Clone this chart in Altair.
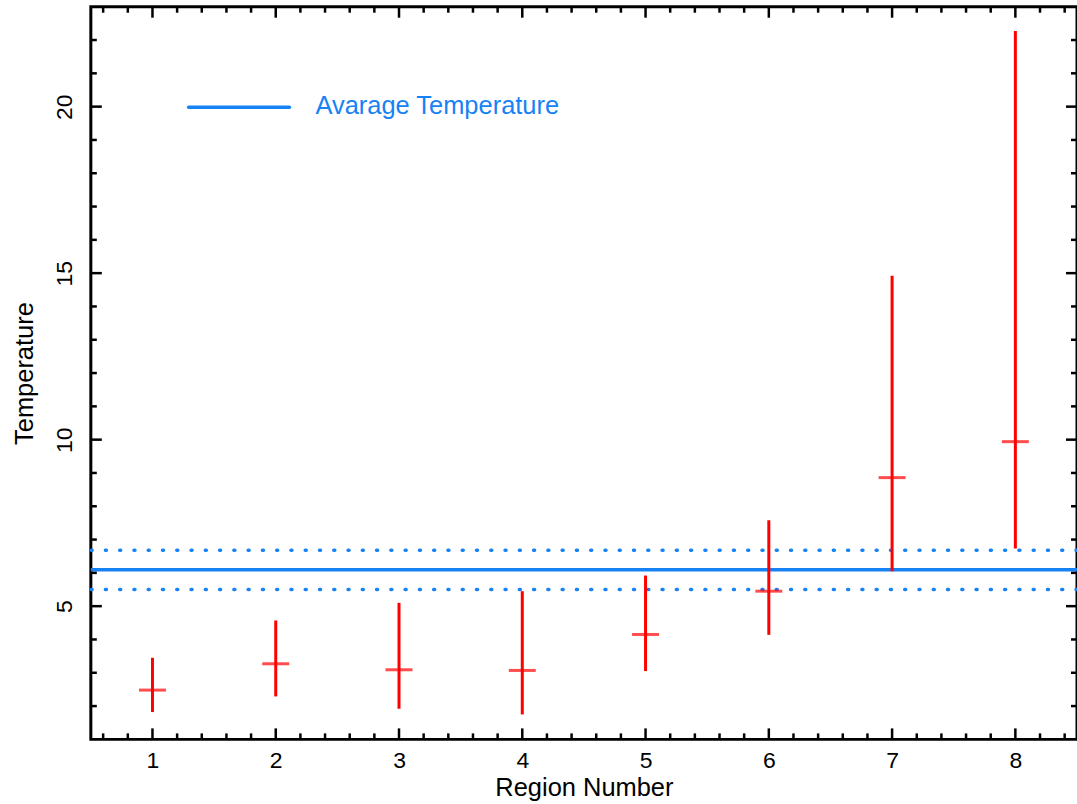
import altair as alt
import pandas as pd

# ---- data ----
regions = [1, 2, 3, 4, 5, 6, 7, 8]
temp = [2.48, 3.27, 3.09, 3.07, 4.15, 5.45, 8.86, 9.94]
temp_low = [1.82, 2.29, 1.92, 1.75, 3.05, 4.14, 6.05, 6.73]
temp_high = [3.45, 4.57, 5.10, 5.45, 5.92, 7.58, 14.92, 22.27]
avg_temp = [6.09]
avg_bounds = [5.50, 6.68]
legend_label = ["Avarage Temperature"]

# axis tick values
x_major = [1, 2, 3, 4, 5, 6, 7, 8]
x_minor = [round(i * 0.2, 1) for i in range(3, 43) if i % 5]
y_major = [5, 10, 15, 20]
y_minor = [2, 3, 4, 6, 7, 8, 9, 11, 12, 13, 14, 16, 17, 18, 19, 21, 22]

W, H = 988, 734
RED = "#ff0000"
BLUE = "#1682f5"
FONT = "Liberation Sans"

xs = alt.Scale(domain=[0.5, 8.5], nice=False, zero=False)
ys = alt.Scale(domain=[1, 23], nice=False, zero=False)

df = pd.DataFrame({"region": regions, "temp": temp, "low": temp_low, "high": temp_high})
avg_df = pd.DataFrame({"avg": avg_temp})
bnd_df = pd.DataFrame({"b": avg_bounds})

x_axis = alt.Axis(values=x_major, format="d", ticks=False, domain=False, grid=False,
                  labelFontSize=23, labelPadding=10, title="Region Number", titleFontSize=25.5,
                  titleFontWeight="normal", titlePadding=3, labelColor="black",
                  titleColor="black", labelFont=FONT, titleFont=FONT)
y_axis = alt.Axis(values=y_major, format="d", ticks=False, domain=False, grid=False,
                  labelFontSize=23, labelAngle=270, labelAlign="center", labelBaseline="bottom",
                  labelPadding=14, title="Temperature", titleFontSize=25.5,
                  titleFontWeight="normal", titlePadding=16, labelColor="black",
                  titleColor="black", labelFont=FONT, titleFont=FONT)

base = alt.Chart(df)

err = base.mark_rule(color=RED, strokeWidth=3).encode(
    x=alt.X("region:Q", scale=xs, axis=x_axis),
    y=alt.Y("low:Q", scale=ys, axis=y_axis),
    y2="high:Q",
)
cap = base.mark_tick(color=RED, orient="horizontal", size=27, thickness=3).encode(
    x=alt.X("region:Q", scale=xs),
    y=alt.Y("temp:Q", scale=ys),
)

avg_line = alt.Chart(avg_df).mark_rule(color=BLUE, strokeWidth=3.5).encode(
    y=alt.Y("avg:Q", scale=ys),
)
bnd_line = alt.Chart(bnd_df).mark_rule(color=BLUE, strokeWidth=3.5, strokeDash=[1, 13.3],
                                        strokeCap="round").encode(
    y=alt.Y("b:Q", scale=ys),
)

leg_df = pd.DataFrame({"label": legend_label})
leg_line = alt.Chart(leg_df).mark_rule(color=BLUE, strokeWidth=3.5, strokeCap="round").encode(
    x=alt.value(98), x2=alt.value(199), y=alt.value(100.7),
)
leg_text = alt.Chart(leg_df).mark_text(color=BLUE, fontSize=25.5, font=FONT, align="left",
                                        baseline="alphabetic").encode(
    x=alt.value(225), y=alt.value(107.3), text="label:N",
)

def xticks(vals, length):
    d = pd.DataFrame({"v": vals})
    bottom = alt.Chart(d).mark_rule(color="black", strokeWidth=2.5).encode(
        x=alt.X("v:Q", scale=xs), y=alt.value(H), y2=alt.value(H - length))
    top = alt.Chart(d).mark_rule(color="black", strokeWidth=2.5).encode(
        x=alt.X("v:Q", scale=xs), y=alt.value(0), y2=alt.value(length))
    return [bottom, top]

def yticks(vals, length):
    d = pd.DataFrame({"v": vals})
    left = alt.Chart(d).mark_rule(color="black", strokeWidth=2.5).encode(
        y=alt.Y("v:Q", scale=ys), x=alt.value(0), x2=alt.value(length))
    right = alt.Chart(d).mark_rule(color="black", strokeWidth=2.5).encode(
        y=alt.Y("v:Q", scale=ys), x=alt.value(W), x2=alt.value(W - length))
    return [left, right]

tick_layers = xticks(x_major, 11) + xticks(x_minor, 6) + yticks(y_major, 11) + yticks(y_minor, 6)

chart = alt.layer(
    avg_line, bnd_line, err, cap, leg_line, leg_text, *tick_layers
).properties(
    width=W, height=H,
    autosize=alt.AutoSizeParams(type="none"),
    padding={"left": 91, "top": 6, "right": 0, "bottom": 64},
    background="white",
).configure(
    font=FONT,
    view=alt.ViewConfig(stroke="black", strokeWidth=3),
)

chart.save("out.html", embed_options={"renderer": "svg", "actions": False})
